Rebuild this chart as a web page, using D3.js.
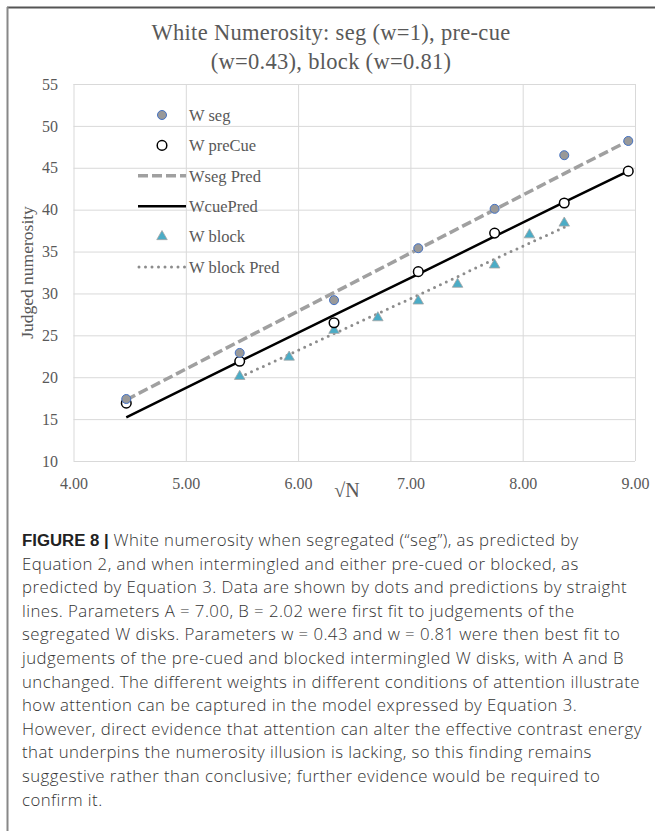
<!DOCTYPE html>
<html>
<head>
<meta charset="utf-8">
<script src="https://cdn.jsdelivr.net/npm/d3@7/dist/d3.min.js"></script>
<style>
  body { margin: 0; background: #fff; }
  svg { display: block; }
</style>
</head>
<body>
<div id="chart"></div>
<script>
// data
var segX = [4.47, 5.48, 6.32, 7.07, 7.75, 8.37, 8.94]
var segVals = [17.4, 22.9, 29.2, 35.4, 40.1, 46.5, 48.2]
var preCueVals = [16.9, 21.9, 26.5, 32.6, 37.2, 40.8, 44.6]
var segPred = [17.3, 24.3, 30.1, 35.3, 40.0, 44.3, 48.2]
var cuePred = [15.2, 21.9, 27.4, 32.3, 36.8, 40.9, 44.6]

var blockX = [5.48, 5.92, 6.32, 6.71, 7.07, 7.42, 7.75, 8.06, 8.37]
var blockVals = [20.1, 22.4, 25.6, 27.1, 29.1, 31.1, 33.4, 37.0, 38.4]
var blockPred = [20.0, 22.7, 25.2, 27.6, 29.8, 32.0, 34.1, 36.0, 37.9]

var xTicks = [4, 5, 6, 7, 8, 9]
var yTicks = [10, 15, 20, 25, 30, 35, 40, 45, 50, 55]

var titleLines = ['White Numerosity: seg (w=1), pre-cue', '(w=0.43), block (w=0.81)']
var xTitle = '\u221AN'
var yTitle = 'Judged numerosity'

var legendLabels = ['W seg', 'W preCue', 'Wseg Pred', 'WcuePred', 'W block', 'W block Pred']

var captionBold = 'FIGURE 8 |'
var captionLines = [
  ' White numerosity when segregated (\u201Cseg\u201D), as predicted by',
  'Equation 2, and when intermingled and either pre-cued or blocked, as',
  'predicted by Equation 3. Data are shown by dots and predictions by straight',
  'lines. Parameters A = 7.00, B = 2.02 were first fit to judgements of the',
  'segregated W disks. Parameters w = 0.43 and w = 0.81 were then best fit to',
  'judgements of the pre-cued and blocked intermingled W disks, with A and B',
  'unchanged. The different weights in different conditions of attention illustrate',
  'how attention can be captured in the model expressed by Equation 3.',
  'However, direct evidence that attention can alter the effective contrast energy',
  'that underpins the numerosity illusion is lacking, so this finding remains',
  'suggestive rather than conclusive; further evidence would be required to',
  'confirm it.'
]

// layout
var W = 655, H = 831
var plot = { left: 73.5, right: 635, top: 84, bottom: 461 }
var serif = 'Liberation Serif, serif'
var textGray = '#595959'

var svg = d3.select('#chart').append('svg')
  .attr('width', W)
  .attr('height', H)

// frame (top + left edge)
svg.append('line')
  .attr('x1', 7).attr('x2', W).attr('y1', 7.5).attr('y2', 7.5)
  .attr('stroke', '#555').attr('stroke-width', 2)
svg.append('line')
  .attr('x1', 7.5).attr('x2', 7.5).attr('y1', 7).attr('y2', H)
  .attr('stroke', '#888').attr('stroke-width', 2)

// scales
var x = d3.scaleLinear().domain([4, 9]).range([plot.left, plot.right])
var y = d3.scaleLinear().domain([10, 55]).range([plot.bottom, plot.top])

// grid
var gridX = d3.axisBottom(x).tickValues(xTicks).tickSize(-(plot.bottom - plot.top)).tickFormat('')
svg.append('g')
  .attr('class', 'grid')
  .attr('transform', 'translate(0,' + plot.bottom + ')')
  .call(gridX)

var gridY = d3.axisLeft(y).tickValues(yTicks).tickSize(-(plot.right - plot.left)).tickFormat('')
svg.append('g')
  .attr('class', 'grid')
  .attr('transform', 'translate(' + plot.left + ',0)')
  .call(gridY)

svg.selectAll('.grid .domain').remove()
svg.selectAll('.grid line').attr('stroke', '#d9d9d9').attr('stroke-width', 1)

// axis labels
var xAxis = d3.axisBottom(x).tickValues(xTicks).tickSize(0).tickPadding(17).tickFormat(d3.format('.2f'))
svg.append('g')
  .attr('class', 'axis x-axis')
  .attr('transform', 'translate(0,' + plot.bottom + ')')
  .call(xAxis)

var yAxis = d3.axisLeft(y).tickValues(yTicks).tickSize(0).tickPadding(15.5)
svg.append('g')
  .attr('class', 'axis y-axis')
  .attr('transform', 'translate(' + plot.left + ',0)')
  .call(yAxis)

svg.selectAll('.axis .domain').remove()
svg.selectAll('.axis text')
  .attr('font-family', serif)
  .attr('font-size', 16)
  .attr('fill', textGray)

// titles
svg.append('g').selectAll('text')
  .data(titleLines)
  .enter()
  .append('text')
  .attr('x', 331)
  .attr('y', (d, i) => 40 + i * 29)
  .attr('text-anchor', 'middle')
  .attr('font-family', serif)
  .attr('font-size', 22.5)
  .attr('letter-spacing', 0.3)
  .attr('fill', textGray)
  .text(d => d)

svg.append('text')
  .attr('x', 347)
  .attr('y', 497)
  .attr('text-anchor', 'middle')
  .attr('font-family', serif)
  .attr('font-size', 20)
  .attr('fill', textGray)
  .text(xTitle)

svg.append('text')
  .attr('transform', 'translate(27,' + (plot.top + plot.bottom) / 2 + ') rotate(-90)')
  .attr('text-anchor', 'middle')
  .attr('dominant-baseline', 'central')
  .attr('font-family', serif)
  .attr('font-size', 17.5)
  .attr('fill', textGray)
  .text(yTitle)

// prediction lines
var line = d3.line()
  .x(d => x(d[0]))
  .y(d => y(d[1]))

svg.append('path')
  .datum(d3.zip(blockX, blockPred))
  .attr('d', line)
  .attr('fill', 'none')
  .attr('stroke', '#8c8c8c')
  .attr('stroke-width', 3)
  .attr('stroke-linecap', 'round')
  .attr('stroke-dasharray', '0,6.5')

svg.append('path')
  .datum(d3.zip(segX, segPred))
  .attr('d', line)
  .attr('fill', 'none')
  .attr('stroke', '#a0a0a0')
  .attr('stroke-width', 3.5)
  .attr('stroke-dasharray', '10,4')

svg.append('path')
  .datum(d3.zip(segX, cuePred))
  .attr('d', line)
  .attr('fill', 'none')
  .attr('stroke', '#000')
  .attr('stroke-width', 2.5)

// data points
var tri = d3.symbol().type(d3.symbolTriangle).size(48)

svg.append('g').selectAll('path')
  .data(d3.zip(blockX, blockVals))
  .enter()
  .append('path')
  .attr('d', tri)
  .attr('transform', d => 'translate(' + x(d[0]) + ',' + y(d[1]) + ')')
  .attr('fill', '#4bacc6')
  .attr('stroke', '#a5a5a5')
  .attr('stroke-width', 0.8)

svg.append('g').selectAll('circle')
  .data(d3.zip(segX, preCueVals))
  .enter()
  .append('circle')
  .attr('cx', d => x(d[0]))
  .attr('cy', d => y(d[1]))
  .attr('r', 4.8)
  .attr('fill', '#fff')
  .attr('stroke', '#000')
  .attr('stroke-width', 1.5)

svg.append('g').selectAll('circle')
  .data(d3.zip(segX, segVals))
  .enter()
  .append('circle')
  .attr('cx', d => x(d[0]))
  .attr('cy', d => y(d[1]))
  .attr('r', 4.5)
  .attr('fill', '#999')
  .attr('stroke', '#4472c4')
  .attr('stroke-width', 1)

// legend
var legend = svg.append('g').attr('class', 'legend')
var rowY = i => 115 + i * 30.4
var mx = 162

legend.selectAll('text')
  .data(legendLabels)
  .enter()
  .append('text')
  .attr('x', 189)
  .attr('y', (d, i) => rowY(i))
  .attr('dy', '0.35em')
  .attr('font-family', serif)
  .attr('font-size', 16.5)
  .attr('fill', textGray)
  .text(d => d)

legend.append('circle')
  .attr('cx', mx).attr('cy', rowY(0)).attr('r', 4.5)
  .attr('fill', '#999').attr('stroke', '#4472c4').attr('stroke-width', 1)

legend.append('circle')
  .attr('cx', mx).attr('cy', rowY(1)).attr('r', 4.8)
  .attr('fill', '#fff').attr('stroke', '#000').attr('stroke-width', 1.5)

legend.append('line')
  .attr('x1', 138).attr('x2', 186).attr('y1', rowY(2)).attr('y2', rowY(2))
  .attr('stroke', '#a0a0a0').attr('stroke-width', 3.5).attr('stroke-dasharray', '10,4')

legend.append('line')
  .attr('x1', 138).attr('x2', 186).attr('y1', rowY(3)).attr('y2', rowY(3))
  .attr('stroke', '#000').attr('stroke-width', 2.5)

legend.append('path')
  .attr('d', tri)
  .attr('transform', 'translate(' + mx + ',' + rowY(4) + ')')
  .attr('fill', '#4bacc6').attr('stroke', '#a5a5a5').attr('stroke-width', 0.8)

legend.append('line')
  .attr('x1', 139).attr('x2', 186).attr('y1', rowY(5)).attr('y2', rowY(5))
  .attr('stroke', '#8c8c8c').attr('stroke-width', 3)
  .attr('stroke-linecap', 'round').attr('stroke-dasharray', '0,6.5')

// caption
var caption = svg.append('g')
  .attr('font-family', 'Open Sans, Liberation Sans, sans-serif')
  .attr('font-size', 16.8)
  .attr('font-weight', 300)
  .attr('letter-spacing', 0.45)
  .attr('fill', '#333')

caption.selectAll('text')
  .data(captionLines)
  .enter()
  .append('text')
  .attr('x', 22)
  .attr('y', (d, i) => 546 + i * 23.6)
  .each(function(d, i) {
    var t = d3.select(this)
    if (i === 0) {
      t.append('tspan')
        .attr('font-family', 'Liberation Sans, Arial, sans-serif')
        .attr('font-weight', 'bold')
        .attr('letter-spacing', 0)
        .attr('fill', '#222')
        .text(captionBold)
    }
    t.append('tspan').text(d)
  })
</script>
</body>
</html>
